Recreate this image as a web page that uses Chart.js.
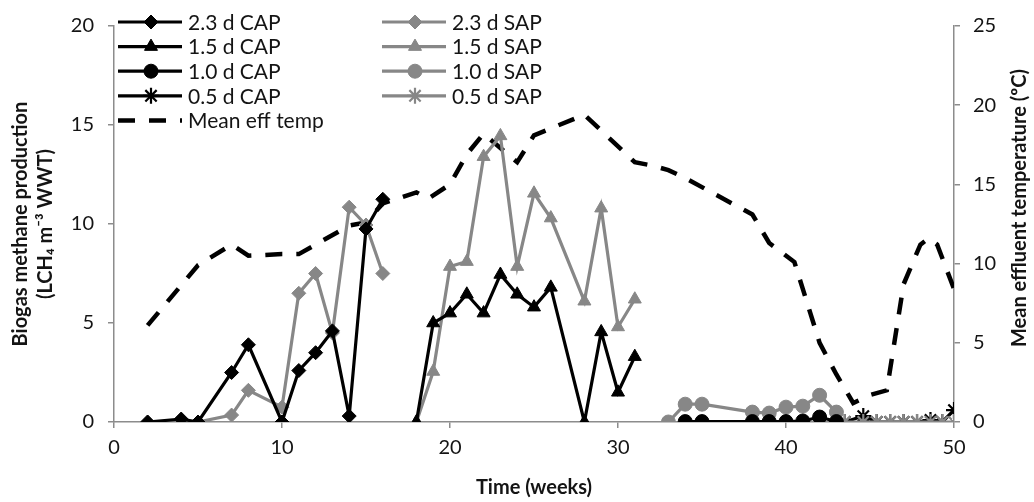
<!DOCTYPE html>
<html>
<head>
<meta charset="utf-8">
<script src="https://cdn.jsdelivr.net/npm/chart.js@4.4.1/dist/chart.umd.min.js"></script>
<style>
  html, body { margin: 0; padding: 0; background: #fff; }
  canvas { display: block; }
</style>
</head>
<body>
<canvas id="chart" width="1034" height="502"></canvas>
<script>
// weeks and methane values (L CH4 per m3 WWT)
const weeks23 = [2, 4, 5, 7, 8, 10, 11, 12, 13, 14, 15, 16];
const cap23 = [0, 0.15, 0, 2.5, 3.9, 0, 2.6, 3.5, 4.6, 0.3, 9.75, 11.25];
const sap23 = [0, 0, 0, 0.35, 1.6, 0.75, 6.5, 7.5, 4.5, 10.85, 9.95, 7.5];

const weeks15 = [18, 19, 20, 21, 22, 23, 24, 25, 26, 28, 29, 30, 31];
const cap15 = [0, 5.0, 5.5, 6.45, 5.5, 7.45, 6.45, 5.8, 6.8, 0, 4.55, 1.5, 3.3];
const sap15 = [0, 2.55, 7.85, 8.1, 13.4, 14.45, 7.85, 11.55, 10.3, 6.1, 10.8, 4.8, 6.2];

const weeks10sap = [33, 34, 35, 38, 39, 40, 41, 42, 43];
const sap10 = [0, 0.9, 0.9, 0.5, 0.45, 0.75, 0.8, 1.35, 0.5];
const weeks10cap = [34, 35, 38, 39, 40, 41, 42, 43];
const cap10 = [0.02, 0.02, 0.02, 0.02, 0.02, 0.05, 0.25, 0.02];

const weeks05 = [43.5, 44.6, 45.4, 46.2, 47, 47.8, 48.6, 49.3, 50];
const cap05 = [0, 0.3, 0, 0, 0, 0, 0.1, 0, 0.6];
const sap05 = [0, 0, 0, 0, 0, 0, 0, 0, 0];

// mean effluent temperature (deg C, right axis)
const tempWeeks = [2, 5, 7, 8, 10, 11, 14, 15, 16, 18, 18.7, 20, 21, 22, 23, 24, 25, 28, 31, 32, 33, 34,
  38, 39, 40.5, 41, 42, 43, 44, 45, 46, 47, 48, 48.5, 49, 50];
const tempVals = [6.1, 9.9, 11.2, 10.5, 10.6, 10.6, 12.4, 12.6, 13.8, 14.5, 14.1, 15.0, 16.9, 18.2, 17.3, 16.4, 18.1, 19.4, 16.4, 16.2, 15.9, 15.4,
  13.1, 11.3, 10.1, 8.4, 5.0, 3.0, 1.2, 1.7, 2.0, 8.7, 11.2, 11.6, 11.2, 8.4];

const xTicks = [0, 10, 20, 30, 40, 50];
const yTicks = [0, 5, 10, 15, 20];
const y2Ticks = [0, 5, 10, 15, 20, 25];

const FONT = 'Lato, "Open Sans", sans-serif';
const BLACK = '#000000';
const GREY = '#878787';
const AXIS = '#8c8c8c';
const TEXT = '#141414';
const DASH = [17, 14];

function pts(xs, ys) {
  return xs.map((x, i) => ({ x: x, y: ys[i] }));
}

function series(label, xs, ys, color, style, radius, order) {
  return {
    label: label,
    data: pts(xs, ys),
    borderColor: color,
    backgroundColor: color,
    pointBackgroundColor: color,
    pointBorderColor: color,
    pointStyle: style,
    pointRadius: radius,
    pointHoverRadius: radius,
    pointBorderWidth: style === 'star' ? 2.2 : 1,
    borderWidth: 3.2,
    tension: 0,
    yAxisID: 'y',
    order: order
  };
}

const datasets = [
  series('2.3 d CAP', weeks23, cap23, BLACK, 'rectRot', 7, 1),
  series('1.5 d CAP', weeks15, cap15, BLACK, 'triangle', 7.5, 1),
  series('1.0 d CAP', weeks10cap, cap10, BLACK, 'circle', 7, 1),
  series('0.5 d CAP', weeks05, cap05, BLACK, 'star', 8, 3),
  series('2.3 d SAP', weeks23, sap23, GREY, 'rectRot', 7, 2),
  series('1.5 d SAP', weeks15, sap15, GREY, 'triangle', 7.5, 2),
  series('1.0 d SAP', weeks10sap, sap10, GREY, 'circle', 7, 2),
  series('0.5 d SAP', weeks05, sap05, GREY, 'star', 8, 2),
  {
    label: 'Mean eff temp',
    data: pts(tempWeeks, tempVals),
    borderColor: BLACK,
    borderWidth: 4.5,
    borderDash: DASH,
    pointRadius: 0,
    tension: 0,
    yAxisID: 'y2',
    order: 10
  }
];

// legend drawn inside the plot, two columns like the original
const legendLayout = [
  [0, 0, 0], [1, 0, 1], [2, 0, 2], [3, 0, 3], [8, 0, 4],
  [4, 1, 0], [5, 1, 1], [6, 1, 2], [7, 1, 3]
];
const legendPlugin = {
  id: 'insideLegend',
  afterDatasetsDraw(chart) {
    const ctx = chart.ctx;
    const colX = [118, 382];
    ctx.save();
    legendLayout.forEach(([di, col, row]) => {
      const ds = chart.data.datasets[di];
      const x0 = colX[col];
      const y = 22 + row * 24.6;
      ctx.strokeStyle = ds.borderColor;
      ctx.lineWidth = ds.borderWidth;
      ctx.setLineDash(ds.borderDash || []);
      ctx.beginPath();
      ctx.moveTo(x0, y);
      ctx.lineTo(x0 + 64, y);
      ctx.stroke();
      ctx.setLineDash([]);
      if (ds.pointRadius) {
        ctx.fillStyle = ds.pointBackgroundColor;
        ctx.strokeStyle = ds.pointBorderColor;
        ctx.lineWidth = ds.pointBorderWidth;
        Chart.helpers.drawPoint(ctx, {
          pointStyle: ds.pointStyle, radius: ds.pointRadius, borderWidth: ds.pointBorderWidth, rotation: 0
        }, x0 + 33, y);
      }
      ctx.fillStyle = TEXT;
      ctx.font = '21px ' + FONT;
      ctx.textAlign = 'left';
      ctx.textBaseline = 'middle';
      ctx.fillText(ds.label, x0 + 70, y + 1);
    });
    ctx.restore();
  }
};

// right axis title reads bottom-to-top as in the original
const rightTitlePlugin = {
  id: 'rightTitle',
  afterDraw(chart) {
    const ctx = chart.ctx;
    ctx.save();
    ctx.translate(1020, 208);
    ctx.rotate(-Math.PI / 2);
    ctx.font = 'bold 20px ' + FONT;
    ctx.fillStyle = TEXT;
    ctx.textAlign = 'center';
    ctx.textBaseline = 'middle';
    ctx.fillText('Mean effluent temperature (ºC)', 0, 0);
    ctx.restore();
  }
};

const tickFont = { family: FONT, size: 20 };
const titleFont = { family: FONT, size: 20, weight: 'bold' };

new Chart(document.getElementById('chart').getContext('2d'), {
  type: 'line',
  data: { datasets: datasets },
  options: {
    responsive: false,
    animation: false,
    layout: { padding: { top: 18, right: 0, left: 0, bottom: 0 } },
    plugins: { legend: { display: false }, tooltip: { enabled: false } },
    scales: {
      x: {
        type: 'linear', min: 0, max: 50,
        afterBuildTicks: s => { s.ticks = xTicks.map(v => ({ value: v })); },
        afterFit: s => { s.height = 80; },
        grid: { drawOnChartArea: false, color: AXIS, tickLength: 6, lineWidth: 1.5 },
        border: { color: AXIS, width: 1.5 },
        ticks: { font: tickFont, color: TEXT, padding: 8, maxRotation: 0 },
        title: { display: true, text: 'Time (weeks)', font: titleFont, color: TEXT, padding: { top: 0, bottom: 2 } }
      },
      y: {
        position: 'left', min: 0, max: 20,
        afterBuildTicks: s => { s.ticks = yTicks.map(v => ({ value: v })); },
        afterFit: s => { s.width = 114; },
        grid: { drawOnChartArea: false, color: AXIS, tickLength: 6, lineWidth: 1.5 },
        border: { color: AXIS, width: 1.5 },
        ticks: { font: tickFont, color: TEXT, padding: 14 },
        title: {
          display: true,
          text: ['Biogas methane production', '(LCH₄ m⁻³ WWT)'],
          font: { family: FONT, size: 20, weight: 'bold', lineHeight: 1.25 },
          color: TEXT, padding: { top: 8, bottom: 0 }
        }
      },
      y2: {
        position: 'right', min: 0, max: 25,
        afterBuildTicks: s => { s.ticks = y2Ticks.map(v => ({ value: v })); },
        afterFit: s => { s.width = 80; },
        grid: { drawOnChartArea: false, color: AXIS, tickLength: 6, lineWidth: 1.5 },
        border: { color: AXIS, width: 1.5 },
        ticks: { font: tickFont, color: TEXT, padding: 13 }
      }
    }
  },
  plugins: [legendPlugin, rightTitlePlugin]
});
</script>
</body>
</html>
